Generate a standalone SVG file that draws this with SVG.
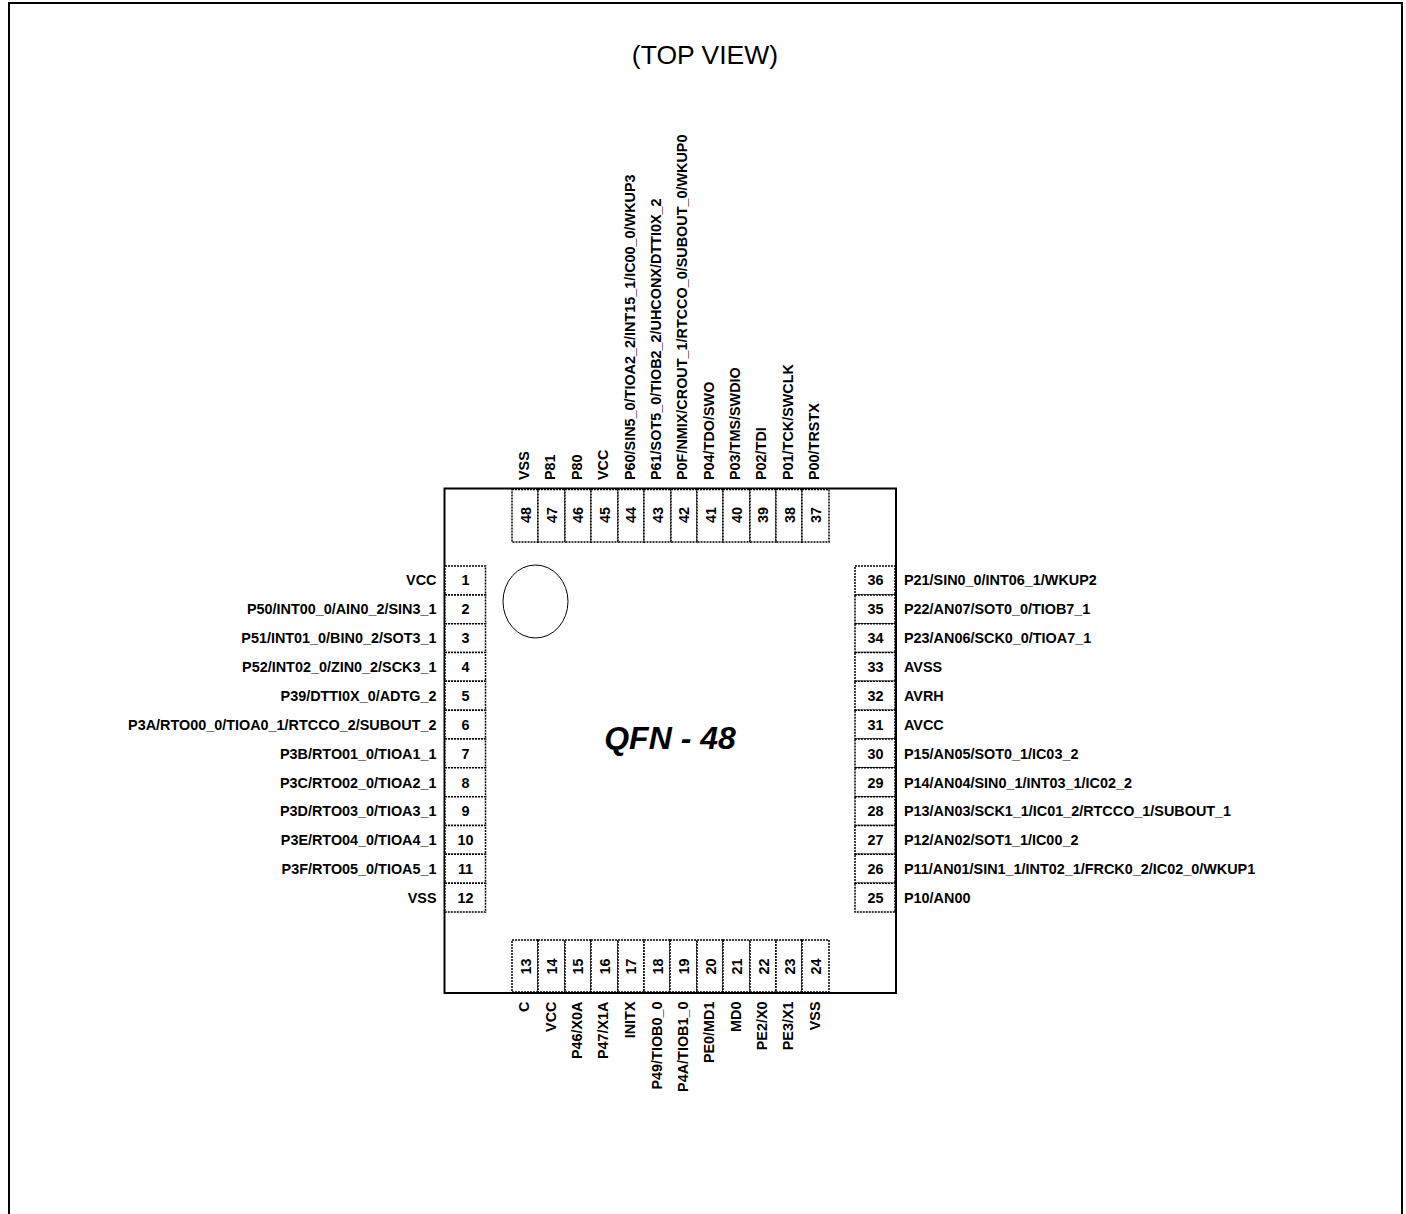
<svg xmlns="http://www.w3.org/2000/svg" width="1406" height="1214" viewBox="0 0 1406 1214">
<style>
text{font-family:"Liberation Sans",Arial,sans-serif;font-weight:bold;font-size:14.4px;fill:#000}
.n{text-anchor:middle}
.r{text-anchor:end}
.pin{fill:#fff;stroke:#000;stroke-width:1.5;stroke-dasharray:2 1}
</style>
<rect width="1406" height="1214" fill="#fff"/>
<path id="frame" d="M9 1214V3H1402V1214" fill="none" stroke="#000" stroke-width="2"/>
<text id="view" x="705" y="64" text-anchor="middle" style="font-weight:normal;font-size:26.500px">(TOP VIEW)</text>
<g id="package">
<rect x="444.500" y="488.500" width="451.500" height="504.500" fill="#fff" stroke="#000" stroke-width="2"/>
<ellipse cx="535.500" cy="601.500" rx="32.500" ry="36.500" fill="none" stroke="#000" stroke-width="1"/>
<text x="670" y="749" text-anchor="middle" style="font-style:italic;font-size:32px">QFN - 48</text>
</g>
<g id="pins-left">
<g id="pin1"><rect class="pin" x="445" y="566" width="40.500" height="29"/><text class="n" x="465.500" y="585">1</text><text class="r" x="436.500" y="585">VCC</text></g>
<g id="pin2"><rect class="pin" x="445" y="595" width="40.500" height="28.700"/><text class="n" x="465.500" y="614">2</text><text class="r" x="436.500" y="614">P50/INT00_0/AIN0_2/SIN3_1</text></g>
<g id="pin3"><rect class="pin" x="445" y="623.700" width="40.500" height="28.800"/><text class="n" x="465.500" y="643">3</text><text class="r" x="436.500" y="643">P51/INT01_0/BIN0_2/SOT3_1</text></g>
<g id="pin4"><rect class="pin" x="445" y="652.500" width="40.500" height="28.800"/><text class="n" x="465.500" y="672">4</text><text class="r" x="436.500" y="672">P52/INT02_0/ZIN0_2/SCK3_1</text></g>
<g id="pin5"><rect class="pin" x="445" y="681.300" width="40.500" height="28.900"/><text class="n" x="465.500" y="701">5</text><text class="r" x="436.500" y="701">P39/DTTI0X_0/ADTG_2</text></g>
<g id="pin6"><rect class="pin" x="445" y="710.200" width="40.500" height="28.800"/><text class="n" x="465.500" y="730">6</text><text class="r" x="436.500" y="730">P3A/RTO00_0/TIOA0_1/RTCCO_2/SUBOUT_2</text></g>
<g id="pin7"><rect class="pin" x="445" y="739" width="40.500" height="28.800"/><text class="n" x="465.500" y="759">7</text><text class="r" x="436.500" y="759">P3B/RTO01_0/TIOA1_1</text></g>
<g id="pin8"><rect class="pin" x="445" y="767.800" width="40.500" height="28.900"/><text class="n" x="465.500" y="788">8</text><text class="r" x="436.500" y="788">P3C/RTO02_0/TIOA2_1</text></g>
<g id="pin9"><rect class="pin" x="445" y="796.700" width="40.500" height="28.800"/><text class="n" x="465.500" y="816">9</text><text class="r" x="436.500" y="816">P3D/RTO03_0/TIOA3_1</text></g>
<g id="pin10"><rect class="pin" x="445" y="825.500" width="40.500" height="28.800"/><text class="n" x="465.500" y="845">10</text><text class="r" x="436.500" y="845">P3E/RTO04_0/TIOA4_1</text></g>
<g id="pin11"><rect class="pin" x="445" y="854.300" width="40.500" height="28.900"/><text class="n" x="465.500" y="874">11</text><text class="r" x="436.500" y="874">P3F/RTO05_0/TIOA5_1</text></g>
<g id="pin12"><rect class="pin" x="445" y="883.200" width="40.500" height="28.800"/><text class="n" x="465.500" y="903">12</text><text class="r" x="436.500" y="903">VSS</text></g>
</g>
<g id="pins-right">
<g id="pin36"><rect class="pin" x="855" y="566" width="40" height="29"/><text class="n" x="875.500" y="585">36</text><text x="904" y="585">P21/SIN0_0/INT06_1/WKUP2</text></g>
<g id="pin35"><rect class="pin" x="855" y="595" width="40" height="28.700"/><text class="n" x="875.500" y="614">35</text><text x="904" y="614">P22/AN07/SOT0_0/TIOB7_1</text></g>
<g id="pin34"><rect class="pin" x="855" y="623.700" width="40" height="28.800"/><text class="n" x="875.500" y="643">34</text><text x="904" y="643">P23/AN06/SCK0_0/TIOA7_1</text></g>
<g id="pin33"><rect class="pin" x="855" y="652.500" width="40" height="28.800"/><text class="n" x="875.500" y="672">33</text><text x="904" y="672">AVSS</text></g>
<g id="pin32"><rect class="pin" x="855" y="681.300" width="40" height="28.900"/><text class="n" x="875.500" y="701">32</text><text x="904" y="701">AVRH</text></g>
<g id="pin31"><rect class="pin" x="855" y="710.200" width="40" height="28.800"/><text class="n" x="875.500" y="730">31</text><text x="904" y="730">AVCC</text></g>
<g id="pin30"><rect class="pin" x="855" y="739" width="40" height="28.800"/><text class="n" x="875.500" y="759">30</text><text x="904" y="759">P15/AN05/SOT0_1/IC03_2</text></g>
<g id="pin29"><rect class="pin" x="855" y="767.800" width="40" height="28.900"/><text class="n" x="875.500" y="788">29</text><text x="904" y="788">P14/AN04/SIN0_1/INT03_1/IC02_2</text></g>
<g id="pin28"><rect class="pin" x="855" y="796.700" width="40" height="28.800"/><text class="n" x="875.500" y="816">28</text><text x="904" y="816">P13/AN03/SCK1_1/IC01_2/RTCCO_1/SUBOUT_1</text></g>
<g id="pin27"><rect class="pin" x="855" y="825.500" width="40" height="28.800"/><text class="n" x="875.500" y="845">27</text><text x="904" y="845">P12/AN02/SOT1_1/IC00_2</text></g>
<g id="pin26"><rect class="pin" x="855" y="854.300" width="40" height="28.900"/><text class="n" x="875.500" y="874">26</text><text x="904" y="874">P11/AN01/SIN1_1/INT02_1/FRCK0_2/IC02_0/WKUP1</text></g>
<g id="pin25"><rect class="pin" x="855" y="883.200" width="40" height="28.800"/><text class="n" x="875.500" y="903">25</text><text x="904" y="903">P10/AN00</text></g>
</g>
<g id="pins-top">
<g id="pin48"><rect class="pin" x="512" y="489.500" width="26" height="52.500"/><text class="n" transform="translate(531 515) rotate(-90)">48</text><text transform="translate(529.300 480) rotate(-90)">VSS</text></g>
<g id="pin47"><rect class="pin" x="538" y="489.500" width="27" height="52.500"/><text class="n" transform="translate(557 515) rotate(-90)">47</text><text transform="translate(555 480) rotate(-90)">P81</text></g>
<g id="pin46"><rect class="pin" x="565" y="489.500" width="26" height="52.500"/><text class="n" transform="translate(583 515) rotate(-90)">46</text><text transform="translate(581.700 480) rotate(-90)">P80</text></g>
<g id="pin45"><rect class="pin" x="591" y="489.500" width="27" height="52.500"/><text class="n" transform="translate(610 515) rotate(-90)">45</text><text transform="translate(608 480) rotate(-90)">VCC</text></g>
<g id="pin44"><rect class="pin" x="618" y="489.500" width="26" height="52.500"/><text class="n" transform="translate(636 515) rotate(-90)">44</text><text transform="translate(635 480) rotate(-90)">P60/SIN5_0/TIOA2_2/INT15_1/IC00_0/WKUP3</text></g>
<g id="pin43"><rect class="pin" x="644" y="489.500" width="27" height="52.500"/><text class="n" transform="translate(663 515) rotate(-90)">43</text><text transform="translate(660.700 480) rotate(-90)">P61/SOT5_0/TIOB2_2/UHCONX/DTTI0X_2</text></g>
<g id="pin42"><rect class="pin" x="671" y="489.500" width="26" height="52.500"/><text class="n" transform="translate(689 515) rotate(-90)">42</text><text transform="translate(687 480) rotate(-90)">P0F/NMIX/CROUT_1/RTCCO_0/SUBOUT_0/WKUP0</text></g>
<g id="pin41"><rect class="pin" x="697" y="489.500" width="26" height="52.500"/><text class="n" transform="translate(715.700 515) rotate(-90)">41</text><text transform="translate(714 480) rotate(-90)">P04/TDO/SWO</text></g>
<g id="pin40"><rect class="pin" x="723" y="489.500" width="27" height="52.500"/><text class="n" transform="translate(742 515) rotate(-90)">40</text><text transform="translate(740 480) rotate(-90)">P03/TMS/SWDIO</text></g>
<g id="pin39"><rect class="pin" x="750" y="489.500" width="26" height="52.500"/><text class="n" transform="translate(768 515) rotate(-90)">39</text><text transform="translate(766 480) rotate(-90)">P02/TDI</text></g>
<g id="pin38"><rect class="pin" x="776" y="489.500" width="26" height="52.500"/><text class="n" transform="translate(795 515) rotate(-90)">38</text><text transform="translate(792.700 480) rotate(-90)">P01/TCK/SWCLK</text></g>
<g id="pin37"><rect class="pin" x="802" y="489.500" width="27" height="52.500"/><text class="n" transform="translate(821 515) rotate(-90)">37</text><text transform="translate(819 480) rotate(-90)">P00/TRSTX</text></g>
</g>
<g id="pins-bottom">
<g id="pin13"><rect class="pin" x="512" y="940" width="26" height="52"/><text class="n" transform="translate(530.700 966.500) rotate(-90)">13</text><text class="r" transform="translate(529 1001.500) rotate(-90)">C</text></g>
<g id="pin14"><rect class="pin" x="538" y="940" width="27" height="52"/><text class="n" transform="translate(557 966.500) rotate(-90)">14</text><text class="r" transform="translate(555.600 1001.500) rotate(-90)">VCC</text></g>
<g id="pin15"><rect class="pin" x="565" y="940" width="26" height="52"/><text class="n" transform="translate(583 966.500) rotate(-90)">15</text><text class="r" transform="translate(581.700 1001.500) rotate(-90)">P46/X0A</text></g>
<g id="pin16"><rect class="pin" x="591" y="940" width="27" height="52"/><text class="n" transform="translate(610 966.500) rotate(-90)">16</text><text class="r" transform="translate(608 1001.500) rotate(-90)">P47/X1A</text></g>
<g id="pin17"><rect class="pin" x="618" y="940" width="26" height="52"/><text class="n" transform="translate(636 966.500) rotate(-90)">17</text><text class="r" transform="translate(635 1001.500) rotate(-90)">INITX</text></g>
<g id="pin18"><rect class="pin" x="644" y="940" width="26" height="52"/><text class="n" transform="translate(663 966.500) rotate(-90)">18</text><text class="r" transform="translate(661.700 1001.500) rotate(-90)">P49/TIOB0_0</text></g>
<g id="pin19"><rect class="pin" x="670" y="940" width="27" height="52"/><text class="n" transform="translate(689 966.500) rotate(-90)">19</text><text class="r" transform="translate(688 1001.500) rotate(-90)">P4A/TIOB1_0</text></g>
<g id="pin20"><rect class="pin" x="697" y="940" width="26" height="52"/><text class="n" transform="translate(716 966.500) rotate(-90)">20</text><text class="r" transform="translate(714 1001.500) rotate(-90)">PE0/MD1</text></g>
<g id="pin21"><rect class="pin" x="723" y="940" width="27" height="52"/><text class="n" transform="translate(742 966.500) rotate(-90)">21</text><text class="r" transform="translate(740.600 1001.500) rotate(-90)">MD0</text></g>
<g id="pin22"><rect class="pin" x="750" y="940" width="26" height="52"/><text class="n" transform="translate(768.700 966.500) rotate(-90)">22</text><text class="r" transform="translate(766.700 1001.500) rotate(-90)">PE2/X0</text></g>
<g id="pin23"><rect class="pin" x="776" y="940" width="26" height="52"/><text class="n" transform="translate(795 966.500) rotate(-90)">23</text><text class="r" transform="translate(793 1001.500) rotate(-90)">PE3/X1</text></g>
<g id="pin24"><rect class="pin" x="802" y="940" width="27" height="52"/><text class="n" transform="translate(821 966.500) rotate(-90)">24</text><text class="r" transform="translate(820 1001.500) rotate(-90)">VSS</text></g>
</g>
<g id="connectors"></g>
</svg>
